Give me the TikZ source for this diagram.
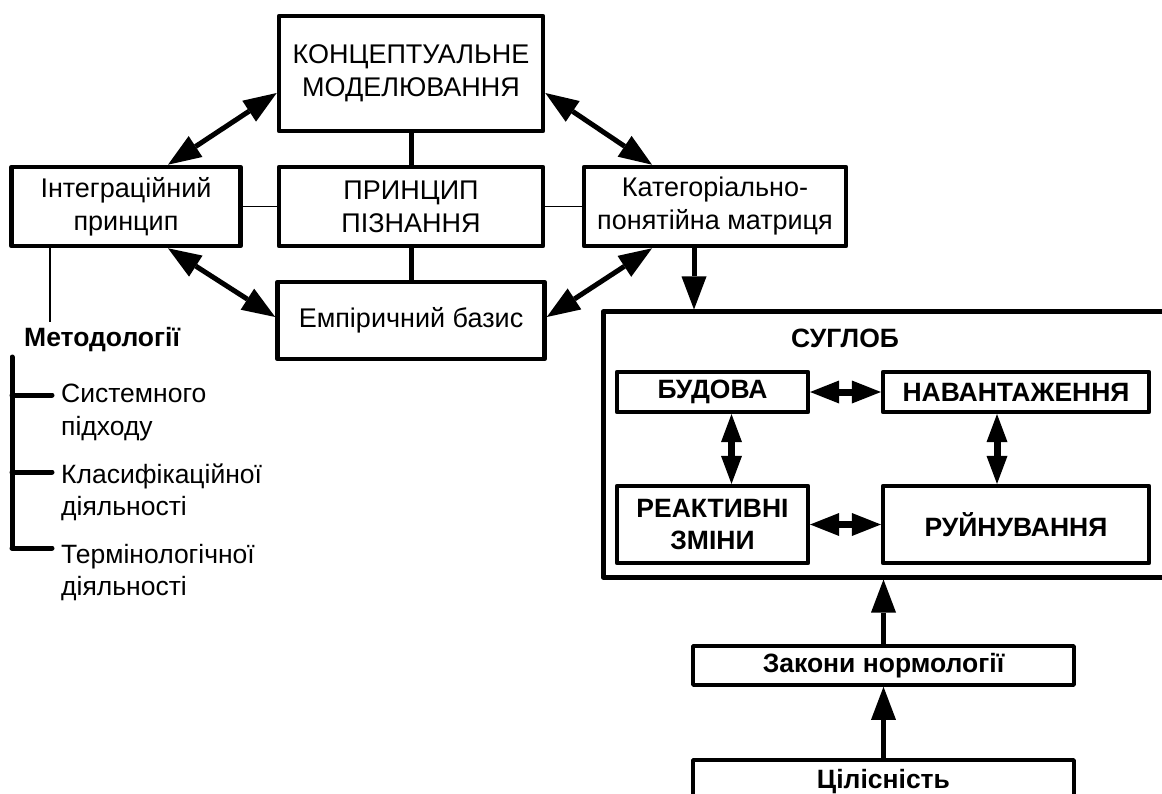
\documentclass[tikz,border=0pt]{standalone}
\usepackage{fontspec}
\setmainfont{Liberation Sans}
\usetikzlibrary{arrows.meta,calc}
\begin{document}
\begin{tikzpicture}[x=1pt,y=-1pt,
  bigtxt/.style={font=\fontsize{27}{33}\selectfont},
  bx/.style={draw,line width=4.6pt,line join=round,inner sep=0pt,align=center},
  ibx/.style={draw,line width=4.2pt,line join=round,inner sep=0pt,align=center,font=\fontsize{26.5}{31.5}\selectfont\bfseries},
  lbx/.style={draw,line width=3.6pt,line join=round,inner sep=0pt,align=center,font=\fontsize{26.5}{30}\selectfont\bfseries},
  item/.style={inner sep=0pt,anchor=base west,font=\fontsize{26.5}{33}\selectfont},
  dbl/.style={line width=5pt,{Triangle[length=33pt,width=25pt,line width=0pt]}-{Triangle[length=33pt,width=25pt,line width=0pt]}},
  hdbl/.style={line width=7pt,{Triangle[length=29pt,width=23pt,line width=0pt]}-{Triangle[length=29pt,width=23pt,line width=0pt]}},
  vdbl/.style={line width=7pt,{Triangle[length=28pt,width=21pt,line width=0pt]}-{Triangle[length=28pt,width=21pt,line width=0pt]}},
  sarr/.style={line width=5pt,-{Triangle[length=33pt,width=25pt,line width=0pt]}},
  thick link/.style={line width=5pt},
  thin link/.style={line width=1.5pt},
  tree/.style={line width=5pt,line cap=round,line join=round}]
\useasboundingbox (0,0) rectangle (1162,794);

% main boxes
\node[bx,bigtxt,minimum width=264pt,minimum height=115pt] (konc) at (411,73.5) {КОНЦЕПТУАЛЬНЕ\\МОДЕЛЮВАННЯ};
\node[bx,bigtxt,minimum width=264pt,minimum height=79pt] (princ) at (411,206.5) {ПРИНЦИП\\ПІЗНАННЯ};
\node[bx,bigtxt,minimum width=267pt,minimum height=77pt] (emp) at (411,320.5) {Емпіричний базис};
\node[bx,bigtxt,minimum width=229pt,minimum height=79pt] (integ) at (126,206.5) {Інтеграційний\\принцип};
\node[bx,bigtxt,minimum width=262pt,minimum height=79pt] (kat) at (715,206.5) {Категоріально-\\понятійна матриця};

% СУГЛОБ
\node[draw,line width=5pt,line join=round,minimum width=597pt,minimum height=265pt,inner sep=0pt] (sug) at (901.5,444.5) {};
\node[font=\fontsize{26.5}{30}\selectfont\bfseries,inner sep=0pt] (sugt) at (845,338) {СУГЛОБ};
\node[ibx,minimum width=191pt,minimum height=40pt] (bud) at (712.5,392) {БУДОВА};
\node[ibx,minimum width=266pt,minimum height=40pt] (nav) at (1016,392) {НАВАНТАЖЕННЯ};
\node[ibx,minimum width=191pt,minimum height=77pt] (reak) at (712.5,524.5) {РЕАКТИВНІ\\ЗМІНИ};
\node[ibx,minimum width=266pt,minimum height=77pt] (ruin) at (1016,524.5) {РУЙНУВАННЯ};

% bottom boxes
\node[lbx,minimum width=381pt,minimum height=39pt] (zak) at (883.5,665.5) {Закони нормології};
\node[lbx,minimum width=381pt,minimum height=44pt] (cil) at (883.5,782) {Цілісність};

% links in the cross
\draw[thick link] (konc.south) -- (princ.north);
\draw[thick link] (princ.south) -- (emp.north);
\draw[thin link] (integ.east) -- (princ.west);
\draw[thin link] (princ.east) -- (kat.west);

% diagonal double arrows
\draw[dbl] ($(integ.north)+(42,0)$) -- ($(konc.west)+(0,19.5)$);
\draw[dbl] ($(integ.south)+(42,0)$) -- ($(emp.west)+(0,-3.5)$);
\draw[dbl] ($(konc.east)+(0,19.5)$) -- ($(kat.north)+(-63,0)$);
\draw[dbl] ($(kat.south)+(-63,0)$) -- ($(emp.east)+(0,-3.5)$);

% to СУГЛОБ
\coordinate (katdown) at ($(kat.south)+(-21,0)$);
\draw[sarr] (katdown) -- (katdown |- sug.north);
\draw[sarr] (zak.north) -- (zak.north |- sug.south);
\draw[sarr] (cil.north) -- (zak.south);

% inside СУГЛОБ
\draw[hdbl] (bud.east) -- (nav.west);
\draw[hdbl] (reak.east) -- (ruin.west);
\draw[vdbl] ($(bud.south)+(19,0)$) -- ($(reak.north)+(19,0)$);
\draw[vdbl] ($(nav.south)+(-19,0)$) -- ($(ruin.north)+(-19,0)$);

% Методології
\coordinate (metend) at (50,322);
\draw[thin link] ($(integ.south)+(-76,0)$) -- (metend);
\node[inner sep=0pt,anchor=base west,font=\fontsize{26.5}{30}\selectfont\bfseries] (met) at (24,346.5) {Методології};

\node[item] (i1a) at (61,402) {Системного};
\node[item] (i1b) at (61,435) {підходу};
\node[item] (i2a) at (61,483) {Класифікаційної};
\node[item] (i2b) at (61,515.5) {діяльності};
\node[item] (i3a) at (61,563) {Термінологічної};
\node[item] (i3b) at (61,595.5) {діяльності};

\coordinate (ttop) at (12,357);
\coordinate (b1) at (12,395);
\coordinate (b2) at (12,472);
\coordinate (b3) at (12,548);
\draw[tree] (ttop) -- (b3);
\draw[tree,shorten >=9pt] (b1) -- (b1 -| i1a.west);
\draw[tree,shorten >=9pt] (b2) -- (b2 -| i2a.west);
\draw[tree,shorten >=9pt] (b3) -- (b3 -| i3a.west);
\end{tikzpicture}
\end{document}
